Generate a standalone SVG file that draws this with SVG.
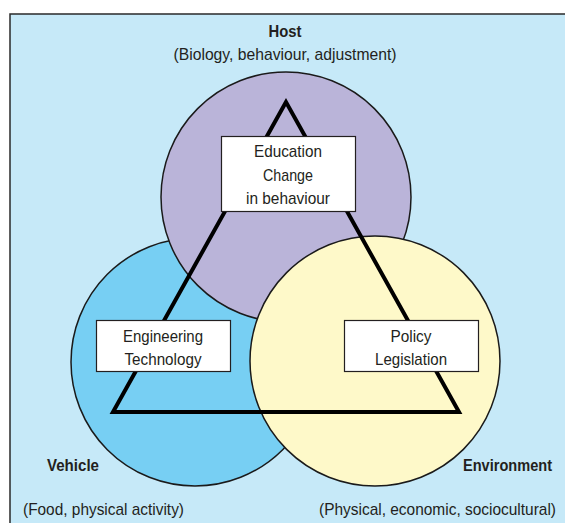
<svg xmlns="http://www.w3.org/2000/svg" width="565" height="523" viewBox="0 0 565 523">
<style>
text{font-family:"Liberation Sans Narrow","Liberation Sans",Arial,sans-serif;font-size:17px;fill:#231f20}
.b{font-weight:bold;font-size:16.5px}
.m{text-anchor:middle}
.circ{stroke:#1a1a1a;stroke-width:1.5}
.box{fill:#fff;stroke:#231f20;stroke-width:1.2}
</style>
<rect x="10" y="14" width="570" height="520" fill="#c6e9f8" stroke="#2a2a2a" stroke-width="1.5"/>
<g id="vehicle"><circle class="circ" cx="195" cy="362" r="124" fill="#77cff3"/></g>
<g id="host"><circle class="circ" cx="286" cy="197" r="125" fill="#bab4d9"/></g>
<g id="environment"><circle class="circ" cx="375" cy="361" r="125" fill="#fef9c9"/></g>
<g id="connectors"><polygon points="286,102 113,412 459,412" fill="none" stroke="#000" stroke-width="4" stroke-linejoin="miter"/></g>
<g id="host-label">
<text class="b m" x="285" y="37" textLength="33" lengthAdjust="spacingAndGlyphs">Host</text>
<text class="m" x="285" y="60" textLength="223" lengthAdjust="spacingAndGlyphs">(Biology, behaviour, adjustment)</text>
</g>
<g id="vehicle-label">
<text class="b" x="47" y="471" textLength="52" lengthAdjust="spacingAndGlyphs">Vehicle</text>
<text x="23" y="515" textLength="161" lengthAdjust="spacingAndGlyphs">(Food, physical activity)</text>
</g>
<g id="environment-label">
<text class="b" x="463" y="471" textLength="89" lengthAdjust="spacingAndGlyphs">Environment</text>
<text x="319" y="515" textLength="237" lengthAdjust="spacingAndGlyphs">(Physical, economic, sociocultural)</text>
</g>
<g id="education">
<rect class="box" x="221.5" y="136.5" width="134" height="75"/>
<text class="m" x="288" y="157" textLength="68" lengthAdjust="spacingAndGlyphs">Education</text>
<text class="m" x="288" y="181" textLength="50" lengthAdjust="spacingAndGlyphs">Change</text>
<text class="m" x="288" y="204" textLength="84" lengthAdjust="spacingAndGlyphs">in behaviour</text>
</g>
<g id="engineering">
<rect class="box" x="96.5" y="320.5" width="134" height="51"/>
<text class="m" x="163" y="342" textLength="80" lengthAdjust="spacingAndGlyphs">Engineering</text>
<text class="m" x="163" y="365" textLength="77" lengthAdjust="spacingAndGlyphs">Technology</text>
</g>
<g id="policy">
<rect class="box" x="344.5" y="320.5" width="134" height="51"/>
<text class="m" x="411" y="342" textLength="41" lengthAdjust="spacingAndGlyphs">Policy</text>
<text class="m" x="411" y="365" textLength="72" lengthAdjust="spacingAndGlyphs">Legislation</text>
</g>
</svg>
